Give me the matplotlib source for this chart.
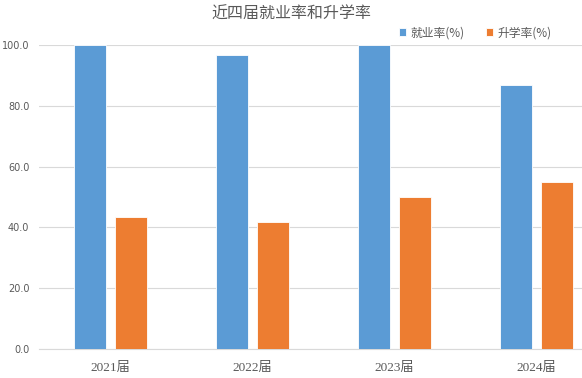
import numpy as np
import matplotlib
matplotlib.use('Agg')
from matplotlib import pyplot as plt

plt.rcParams['font.family'] = ['Noto Sans CJK SC', 'DejaVu Sans']

# data
years = ['2021届', '2022届', '2023届', '2024届']
employ = [100.0, 96.8, 100.0, 87.0]
further = [43.4, 41.9, 50.1, 54.8]

blue = '#5B9BD5'
orange = '#ED7D31'
gray = '#595959'

fig = plt.figure(figsize=(5.82, 3.78), dpi=100)
ax = fig.add_axes([0.067, 0.0767, 0.933, 0.804])

x = np.arange(len(years))
w = 0.225
off = 0.144
ax.bar(x - off, employ, w, color=blue, edgecolor='white', linewidth=0.6, label='就业率(%)', zorder=3)
ax.bar(x + off, further, w, color=orange, edgecolor='white', linewidth=0.6, label='升学率(%)', zorder=3)

ax.set_xlim(-0.5, 3.32)
ax.set_ylim(0, 100)
ax.set_yticks(np.arange(0, 101, 20))
ax.set_yticklabels(['%.1f' % v for v in np.arange(0, 101, 20)], fontsize=7, color=gray,
                   family=['DejaVu Sans'])
ax.set_xticks(x)
ax.set_xticklabels(years, fontsize=9.5, color=gray, family=['Liberation Serif', 'Noto Sans CJK SC'])
ax.tick_params(axis='both', length=0)
ax.tick_params(axis='x', pad=9)
ax.tick_params(axis='y', pad=7)
ax.grid(axis='y', color='#D9D9D9', linewidth=0.8, zorder=0)
for s in ['top', 'right', 'left']:
    ax.spines[s].set_visible(False)
ax.spines['bottom'].set_color('#D9D9D9')

fig.text(0.5, 0.962, '近四届就业率和升学率', ha='center', va='center', fontsize=11.5, color=gray)

leg = ax.legend(loc='lower right', bbox_to_anchor=(0.955, 1.0), ncol=2, frameon=False,
                fontsize=8.5, handlelength=0.6, handleheight=0.6, columnspacing=1.8,
                handletextpad=0.4, borderaxespad=0.1)
for t in leg.get_texts():
    t.set_color(gray)

fig.savefig('out.png', dpi=100)
